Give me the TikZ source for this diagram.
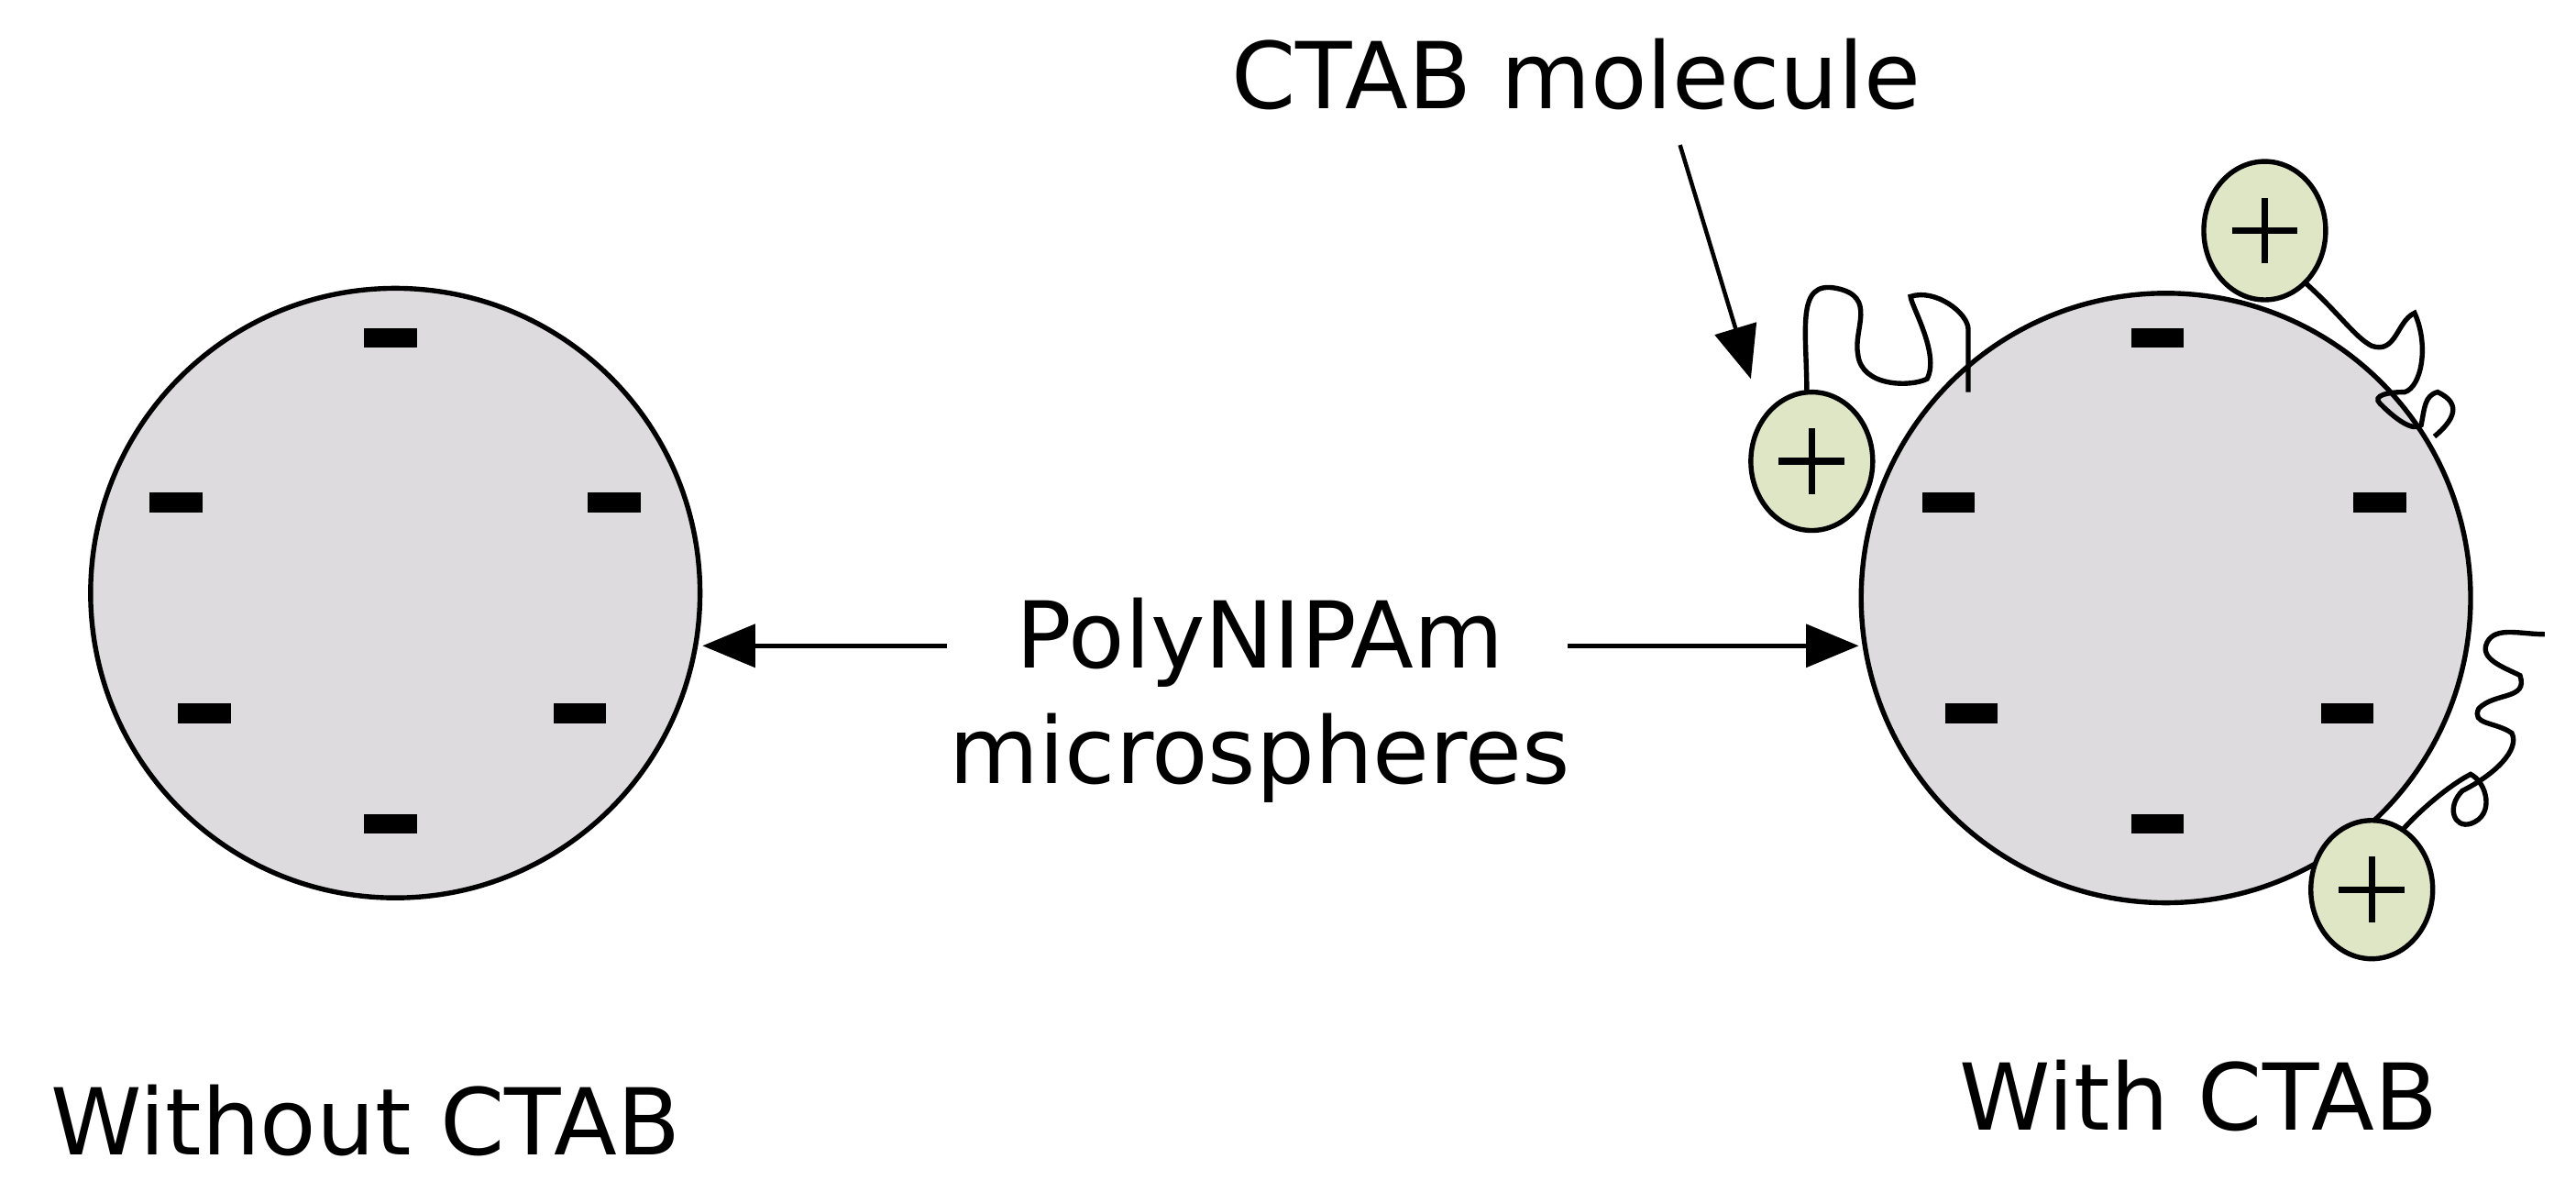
\documentclass[tikz,border=0pt]{standalone}
\usepackage{fontspec}
\setmainfont{DejaVu Sans}
\usetikzlibrary{arrows.meta,shapes.geometric}
\definecolor{sph}{RGB}{221,219,222}
\definecolor{pos}{RGB}{222,230,198}
\begin{document}
\begin{tikzpicture}[x=1pt,y=-1pt,
 sphere/.style={circle,draw,line width=3pt,fill=sph,minimum size=370pt,inner sep=0},
 neg/.style={fill=black,minimum width=32pt,minimum height=12pt,inner sep=0},
 ion/.style={ellipse,draw,line width=3pt,fill=pos,minimum width=74pt,minimum height=84pt,inner sep=0},
 lbl/.style={font=\fontsize{56}{66}\selectfont,inner sep=0},
 arr/.style={line width=2.5pt,-{Triangle[length=32pt,width=26pt]}},
 tail/.style={line width=3pt}]
\useasboundingbox (0,0) rectangle (1564,730);
\node[sphere] (L) at (240,360) {};
\foreach \p in {(237,205),(107,305),(373,305),(124,433),(352,433),(237,500)}
  \node[neg] at \p {};
\node[sphere] (R) at (1315,363) {};
\foreach \p in {(1310,205),(1183,305),(1445,305),(1197,433),(1425,433),(1310,500)}
  \node[neg] at \p {};
% tails
\draw[tail] (1097,240) .. controls (1097,200) and (1090,170) .. (1115,175) .. controls (1140,180) and (1125,200) .. (1128,215) .. controls (1130,235) and (1160,235) .. (1170,230) .. controls (1178,215) and (1160,185) .. (1160,180) .. controls (1175,175) and (1195,190) .. (1195,200) .. controls (1195,215) and (1195,230) .. (1195,238);
\draw[tail] (1400,172) .. controls (1420,190) and (1430,205) .. (1440,210) .. controls (1455,215) and (1455,195) .. (1466,190) .. controls (1475,210) and (1470,235) .. (1460,238) .. controls (1450,238) and (1440,240) .. (1445,245) .. controls (1455,255) and (1465,262) .. (1470,258) .. controls (1472,248) and (1472,240) .. (1480,238) .. controls (1495,245) and (1490,255) .. (1478,265);
\draw[tail] (1455,508) .. controls (1470,490) and (1490,475) .. (1500,470) .. controls (1510,475) and (1515,495) .. (1500,500) .. controls (1490,503) and (1485,490) .. (1495,480) .. controls (1515,470) and (1530,455) .. (1525,445) .. controls (1515,438) and (1500,440) .. (1505,430) .. controls (1515,420) and (1535,425) .. (1530,410) .. controls (1520,405) and (1505,400) .. (1510,390) .. controls (1515,380) and (1530,385) .. (1545,385);
\node[ion] (P1) at (1100,280) {};
\node[ion] (P2) at (1375,140) {};
\node[ion] (P3) at (1440,540) {};
\foreach \n in {P1,P2,P3}{
  \draw[line width=4pt] ([xshift=-20pt]\n.center) -- ([xshift=20pt]\n.center);
  \draw[line width=4pt] ([yshift=-20pt]\n.center) -- ([yshift=20pt]\n.center);
}
% labels
\node[lbl] (mol) at (957,45) {CTAB molecule};
\node[lbl,align=center] (poly) at (765,425) {PolyNIPAm\\[4pt]microspheres};
\node[lbl] at (222,680) {Without CTAB};
\node[lbl] at (1335,665) {With CTAB};
\coordinate (ps) at (575,392);
\coordinate (pe) at (952,392);
\coordinate (ms) at (1020,88);
\draw[arr] (ps) -- (L.east |- ps);
\draw[arr] (pe) -- (R.west |- pe);
\draw[arr] (ms) -- (1063,230);
\end{tikzpicture}
\end{document}
